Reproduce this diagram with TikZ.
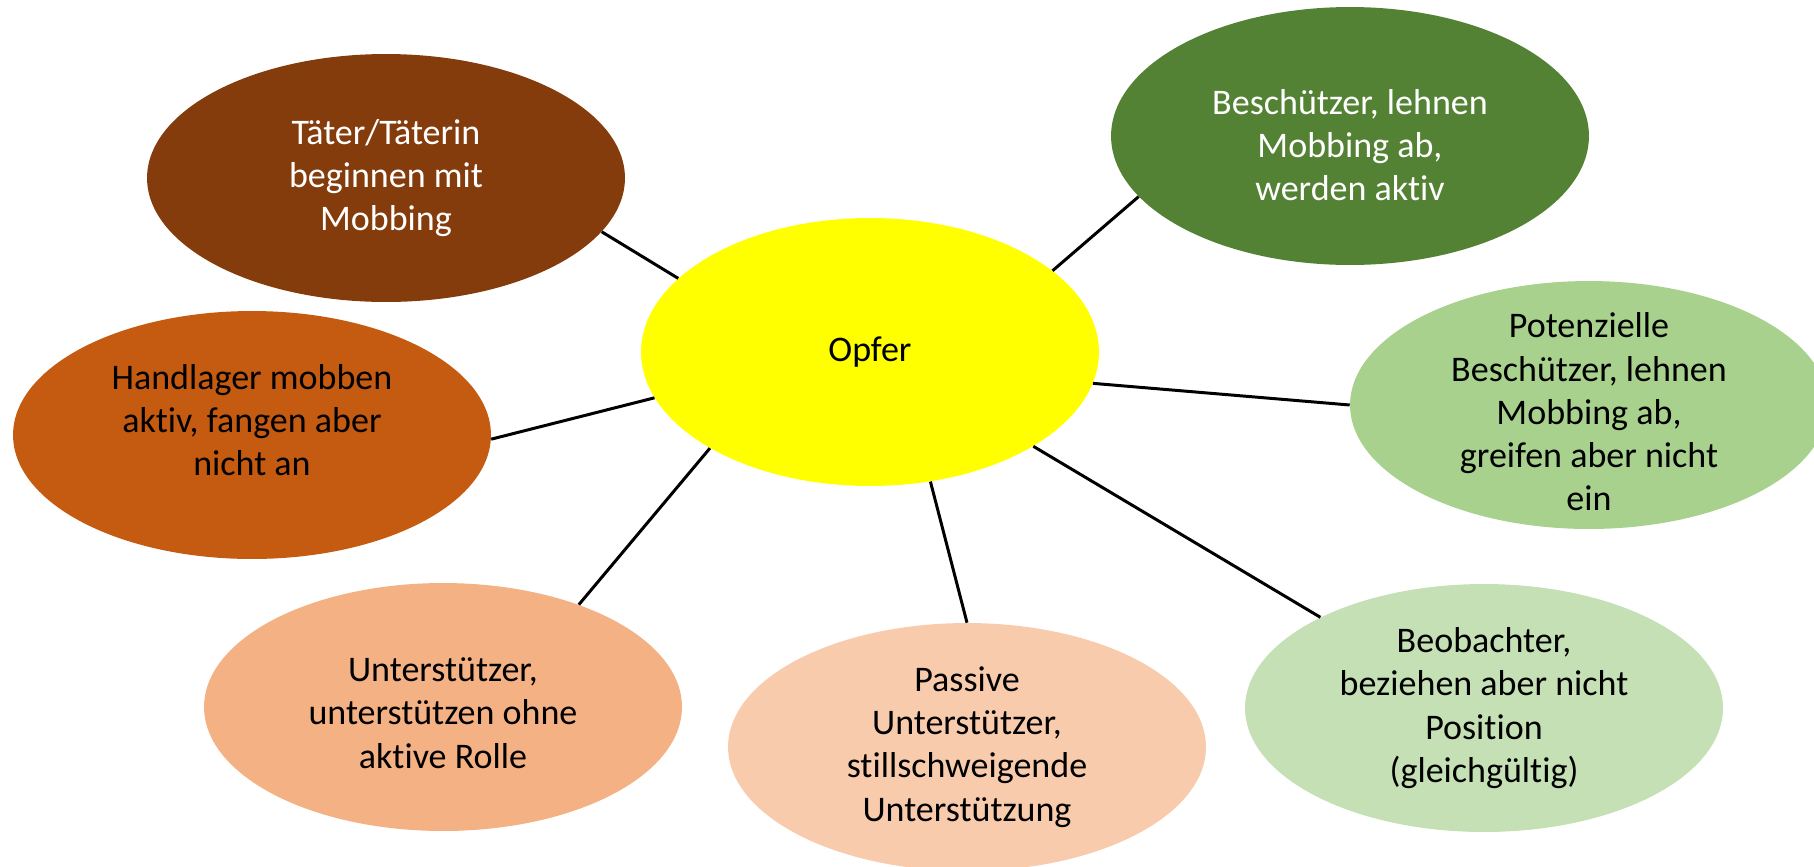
\documentclass[tikz,border=0pt]{standalone}
\usepackage{fontspec}
\setmainfont{Carlito}[Ligatures={NoCommon}]
\usetikzlibrary{shapes.geometric}
\definecolor{TaeterClr}{HTML}{843C0C}
\definecolor{HandlClr}{HTML}{C55A11}
\definecolor{UnterstClr}{HTML}{F4B183}
\definecolor{PassivClr}{HTML}{F8CBAD}
\definecolor{OpferClr}{HTML}{FFFF00}
\definecolor{SchutzClr}{HTML}{548235}
\definecolor{PotSchutzClr}{HTML}{A9D18E}
\definecolor{BeobClr}{HTML}{C5E0B4}

\begin{document}
\begin{tikzpicture}[x=0.02cm,y=-0.02cm,
  bubble/.style={ellipse,fill=#1,inner sep=0pt,minimum width=9.56cm,minimum height=4.96cm},
  bubbletxt/.style={align=center,inner sep=0pt,font=\fontsize{20.5}{24.6}\selectfont},
  link/.style={line width=1.7pt,black}]
\clip (0,0) rectangle (1814,866);

% Ellipsen
\node[bubble=OpferClr,minimum width=9.16cm,minimum height=5.36cm] (opfer) at (870,352) {};
\node[bubble=TaeterClr] (taeter) at (386,178) {};
\node[bubble=HandlClr] (handl) at (252,435) {};
\node[bubble=UnterstClr] (unterst) at (443,707) {};
\node[bubble=PassivClr] (passiv) at (967,747) {};
\node[bubble=BeobClr] (beob) at (1484,708) {};
\node[bubble=PotSchutzClr] (potschutz) at (1589,405) {};
\node[bubble=SchutzClr,minimum height=5.16cm] (schutz) at (1350,136) {};

% Texte
\node[bubbletxt] (opfer-t) at (opfer) {Opfer};
\node[bubbletxt,white] (taeter-t) at (taeter) {Täter/Täterin\\beginnen mit\\Mobbing};
\node[bubbletxt,yshift=0.3cm] (handl-t) at (handl) {Handlager mobben\\aktiv, fangen aber\\nicht an};
\node[bubbletxt,yshift=-0.12cm] (unterst-t) at (unterst) {Unterstützer,\\unterstützen ohne\\aktive Rolle};
\node[bubbletxt] (passiv-t) at (passiv) {Passive\\Unterstützer,\\stillschweigende\\Unterstützung};
\node[bubbletxt] (beob-t) at (beob) {Beobachter,\\beziehen aber nicht\\Position\\(gleichgültig)};
\node[bubbletxt,yshift=-0.14cm] (potschutz-t) at (potschutz) {Potenzielle\\Beschützer, lehnen\\Mobbing ab,\\greifen aber nicht\\ein};
\node[bubbletxt,white,yshift=-0.18cm] (schutz-t) at (schutz) {Beschützer, lehnen\\Mobbing ab,\\werden aktiv};

% Verbindungen
\draw[link] (taeter.-14) -- (opfer.159);
\draw[link] (opfer.24) -- (schutz.-164);
\draw[link] (handl.-1) -- (opfer.-168);
\draw[link] (opfer.-8) -- (potschutz.180);
\draw[link] (opfer.-149) -- (unterst.37);
\draw[link] (opfer.-65) -- (passiv.90);
\draw[link] (opfer.-30) -- (beob.151);
\end{tikzpicture}
\end{document}
